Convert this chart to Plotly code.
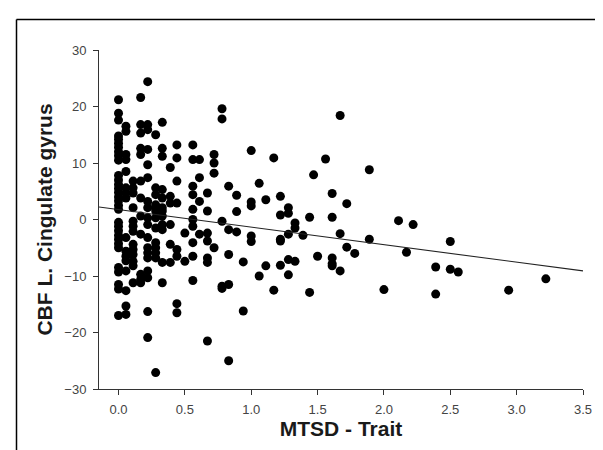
import plotly.graph_objects as go

# MTSD - Trait values (x) and CBF L. Cingulate gyrus values (y), grouped by x column
columns = {
    0.0: [21.2, 18.8, 17.6, 14.8, 14.2, 13.5, 12.8, 12.0, 11.3, 10.5, 7.8, 7.0, 6.2, 5.5, 4.8, 4.0, 3.3,
          2.5, 1.8, -0.5, -1.2, -2.0, -2.8, -3.5, -4.3, -5.0, -8.5, -9.3, -11.5, -12.3, -17.0],
    0.056: [16.5, 15.6, 11.5, 10.6, 8.5, 5.6, 4.7, 3.8, -3.2, -5.6, -6.5, -7.3, -9.1, -12.6, -15.3, -16.8],
    0.11: [6.8, 5.6, 4.7, 2.1, -0.3, -1.2, -2.1, -4.4, -5.3, -6.2, -7.4, -8.2, -11.2],
    0.167: [21.6, 16.8, 15.3, 12.6, 11.5, 6.8, 3.8, 0.6, -2.6, -9.7, -10.6, -11.2],
    0.22: [24.4, 16.8, 15.9, 12.4, 9.7, 7.4, 3.2, 2.1, 0.3, -0.9, -3.2, -5.0, -5.9, -6.8, -9.1, -10.3, -16.3, -20.9],
    0.28: [15.0, 5.6, 4.4, 2.6, 2.1, 1.5, 0.3, -1.5, -4.1, -5.0, -5.9, -6.8, -27.1],
    0.33: [17.2, 12.6, 11.2, 5.3, 3.8, 2.1, 1.5, 0.6, -0.9, -1.8, -7.6, -11.2],
    0.39: [9.2, 4.1, 2.9, -0.9, -4.4, -7.6],
    0.44: [13.2, 10.9, 6.8, 2.9, -5.3, -6.5, -14.9, -16.5],
    0.5: [-2.4, -7.4],
    0.56: [13.2, 10.6, 5.9, 4.4, 1.8, 0.0, -1.2, -4.1, -6.5, -10.8],
    0.61: [10.6, 7.4, 3.2, -2.6],
    0.67: [4.7, 1.5, -2.4, -3.8, -6.8, -7.6, -21.5],
    0.72: [11.5, 10.0, 8.2, -5.0],
    0.78: [19.6, 17.8, -0.3, -11.8, -12.2],
    0.83: [5.9, -1.8, -6.2, -11.5, -25.0],
    0.89: [4.3, 1.4, -2.2],
    0.94: [-7.5, -16.2],
    1.0: [12.2, 3.1, 2.4, -2.9, -3.9],
    1.06: [6.4, -10.0],
    1.11: [3.5, -8.2],
    1.17: [10.9, -12.5],
    1.22: [4.1, 0.8, -3.5, -3.8, -8.1],
    1.28: [2.1, 1.1, -2.6, -7.1, -9.8],
    1.33: [-0.6, -1.5, -7.4],
    1.39: [-2.8],
    1.44: [0.4, -12.9],
    1.47: [7.9],
    1.5: [-6.5],
    1.56: [10.7],
    1.61: [4.6, 0.4, -6.8, -7.8, -8.2],
    1.67: [18.4, -2.5, -9.1],
    1.72: [2.8, -4.9],
    1.78: [-6.0],
    1.89: [8.8, -3.5],
    2.0: [-12.4],
    2.11: [-0.2],
    2.17: [-5.8],
    2.22: [-0.9],
    2.39: [-8.4, -13.2],
    2.5: [-3.9, -8.8],
    2.56: [-9.3],
    2.94: [-12.5],
    3.22: [-10.5],
}

mtsd = [x for x, ys in columns.items() for _ in ys]
cbf = [y for ys in columns.values() for y in ys]

# Regression line as drawn (end points)
trend_x = [-0.147, 3.5]
trend_y = [2.2, -9.1]

x_ticks = [0.0, 0.5, 1.0, 1.5, 2.0, 2.5, 3.0, 3.5]
y_ticks = [-30, -20, -10, 0, 10, 20, 30]

FONT = "Arial, Liberation Sans, sans-serif"

fig = go.Figure()
fig.add_trace(go.Scatter(x=mtsd, y=cbf, mode="markers",
                         marker=dict(color="black", size=9, line=dict(width=0)),
                         showlegend=False, cliponaxis=False))
fig.add_trace(go.Scatter(x=trend_x, y=trend_y, mode="lines",
                         line=dict(color="#222", width=1.1), showlegend=False))

axis_common = dict(showgrid=False, zeroline=False, showline=True, linecolor="#333",
                   linewidth=1, ticks="outside", ticklen=5, tickcolor="#333",
                   tickfont=dict(family=FONT, size=13, color="#444"))

fig.update_xaxes(range=[-0.147, 3.5], tickvals=x_ticks, tickformat=".1f", ticklabelstandoff=3,
                 title=dict(text="<b>MTSD - Trait</b>", font=dict(family=FONT, size=21, color="#1a1a1a"), standoff=0),
                 **axis_common)
fig.update_yaxes(range=[-30, 30], tickvals=y_ticks, ticklabelstandoff=4,
                 title=dict(text="<b>CBF L. Cingulate gyrus</b>", font=dict(family=FONT, size=21, color="#1a1a1a"), standoff=5),
                 **axis_common)

# outer frame (left and top border of the image)
L, R, T, B = 91, 28, 42, 69
W, H = 603, 450
pw, ph = W - L - R, H - T - B
def px(xp): return (xp - L) / pw
def py(yp): return (H - B - yp) / ph
fig.add_shape(type="line", xref="paper", yref="paper", x0=px(8.5), x1=px(610), y0=py(11.5), y1=py(11.5),
              line=dict(color="black", width=1.5))
fig.add_shape(type="line", xref="paper", yref="paper", x0=px(8.5), x1=px(8.5), y0=py(11.5), y1=py(460),
              line=dict(color="black", width=1.5))

fig.update_layout(width=W, height=H, margin=dict(l=L, r=R, t=T, b=B),
                  plot_bgcolor="white", paper_bgcolor="white")

fig.write_html("out.html")
